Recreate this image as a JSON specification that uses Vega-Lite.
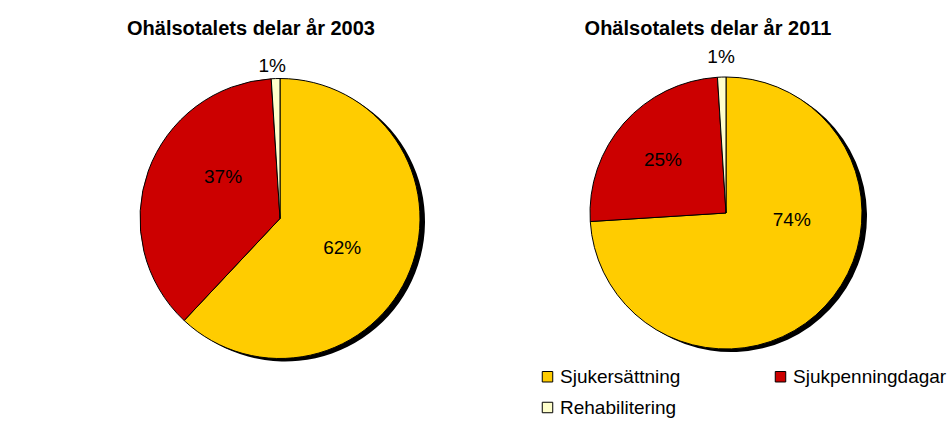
{
  "$schema": "https://vega.github.io/schema/vega-lite/v6.json",
  "padding": {"top": 18, "left": 0, "right": 0, "bottom": 0},
  "spacing": 0,
  "bounds": "flush",
  "background": "white",
  "config": {
    "view": {"stroke": null},
    "font": "Liberation Sans",
    "title": {"fontSize": 20, "fontWeight": "bold", "font": "Liberation Sans", "color": "#000000", "offset": 3.5}
  },
  "datasets": {
    "ohalsa": [
      {"år": "2003", "kategori": "Sjukersättning", "andel": 62, "etikett": "62%", "ordning": 1},
      {"år": "2003", "kategori": "Sjukpenningdagar", "andel": 37, "etikett": "37%", "ordning": 2},
      {"år": "2003", "kategori": "Rehabilitering", "andel": 1, "etikett": "1%", "ordning": 3},
      {"år": "2011", "kategori": "Sjukersättning", "andel": 74, "etikett": "74%", "ordning": 1},
      {"år": "2011", "kategori": "Sjukpenningdagar", "andel": 25, "etikett": "25%", "ordning": 2},
      {"år": "2011", "kategori": "Rehabilitering", "andel": 1, "etikett": "1%", "ordning": 3}
    ]
  },
  "resolve": {"scale": {"color": "independent"}, "legend": {"color": "independent"}},
  "hconcat": [
    {
      "width": 560,
      "height": 353,
      "title": {"text": "Ohälsotalets delar år 2003", "dx": -29},
      "data": {"name": "ohalsa"},
      "transform": [{"filter": "datum['år'] === '2003'"}],
      "encoding": {
        "theta": {"field": "andel", "type": "quantitative", "stack": true},
        "order": {"field": "ordning", "type": "quantitative"}
      },
      "layer": [
        {
          "mark": {"type": "arc", "outerRadius": 140, "fill": "#000000", "xOffset": 5, "yOffset": 3}
        },
        {
          "mark": {"type": "arc", "outerRadius": 140, "stroke": "#000000", "strokeWidth": 1},
          "encoding": {
            "color": {
              "field": "kategori", "type": "nominal",
              "scale": {"domain": ["Sjukersättning", "Sjukpenningdagar", "Rehabilitering"], "range": ["#FFCC00", "#CC0000", "#FFFFCC"]},
              "legend": null
            }
          }
        },
        {
          "mark": {"type": "text", "radius": 68, "dx": -1, "dy": 4, "fontSize": 19, "color": "#000000", "baseline": "middle", "align": "center"},
          "encoding": {"text": {"condition": {"test": "datum.kategori === 'Sjukersättning'", "field": "etikett"}, "value": ""}}
        },
        {
          "mark": {"type": "text", "radius": 68, "dx": 7, "dy": -18, "fontSize": 19, "color": "#000000", "baseline": "middle", "align": "center"},
          "encoding": {"text": {"condition": {"test": "datum.kategori === 'Sjukpenningdagar'", "field": "etikett"}, "value": ""}}
        },
        {
          "mark": {"type": "text", "radius": 153, "dx": -3, "dy": 0, "fontSize": 19, "color": "#000000", "baseline": "middle", "align": "center"},
          "encoding": {"text": {"condition": {"test": "datum.kategori === 'Rehabilitering'", "field": "etikett"}, "value": ""}}
        }
      ]
    },
    {
      "width": 332,
      "height": 342,
      "title": {"text": "Ohälsotalets delar år 2011", "dx": -18},
      "data": {"name": "ohalsa"},
      "transform": [{"filter": "datum['år'] === '2011'"}],
      "encoding": {
        "theta": {"field": "andel", "type": "quantitative", "stack": true},
        "order": {"field": "ordning", "type": "quantitative"}
      },
      "layer": [
        {
          "mark": {"type": "arc", "outerRadius": 136, "fill": "#000000", "xOffset": 5, "yOffset": 3}
        },
        {
          "mark": {"type": "arc", "outerRadius": 136, "stroke": "#000000", "strokeWidth": 1},
          "encoding": {
            "color": {
              "field": "kategori", "type": "nominal",
              "scale": {"domain": ["Sjukersättning", "Sjukpenningdagar", "Rehabilitering"], "range": ["#FFCC00", "#CC0000", "#FFFFCC"]},
              "legend": {
                "title": null,
                "orient": "none",
                "direction": "horizontal",
                "legendX": -22,
                "legendY": 325,
                "columns": 2,
                "columnPadding": 90,
                "rowPadding": 11,
                "symbolType": "square",
                "symbolSize": 110,
                "symbolStrokeColor": "#000000",
                "symbolStrokeWidth": 1,
                "symbolOpacity": 1,
                "labelFontSize": 19,
                "labelFont": "Liberation Sans",
                "labelColor": "#000000",
                "labelOffset": 3,
                "labelLimit": 300
              }
            }
          }
        },
        {
          "mark": {"type": "text", "radius": 56, "dx": 25, "dy": -31, "fontSize": 19, "color": "#000000", "baseline": "middle", "align": "center"},
          "encoding": {"text": {"condition": {"test": "datum.kategori === 'Sjukersättning'", "field": "etikett"}, "value": ""}}
        },
        {
          "mark": {"type": "text", "radius": 80, "dx": -3, "dy": 0, "fontSize": 19, "color": "#000000", "baseline": "middle", "align": "center"},
          "encoding": {"text": {"condition": {"test": "datum.kategori === 'Sjukpenningdagar'", "field": "etikett"}, "value": ""}}
        },
        {
          "mark": {"type": "text", "radius": 157, "dx": 0, "dy": 1, "fontSize": 19, "color": "#000000", "baseline": "middle", "align": "center"},
          "encoding": {"text": {"condition": {"test": "datum.kategori === 'Rehabilitering'", "field": "etikett"}, "value": ""}}
        }
      ]
    }
  ]
}
